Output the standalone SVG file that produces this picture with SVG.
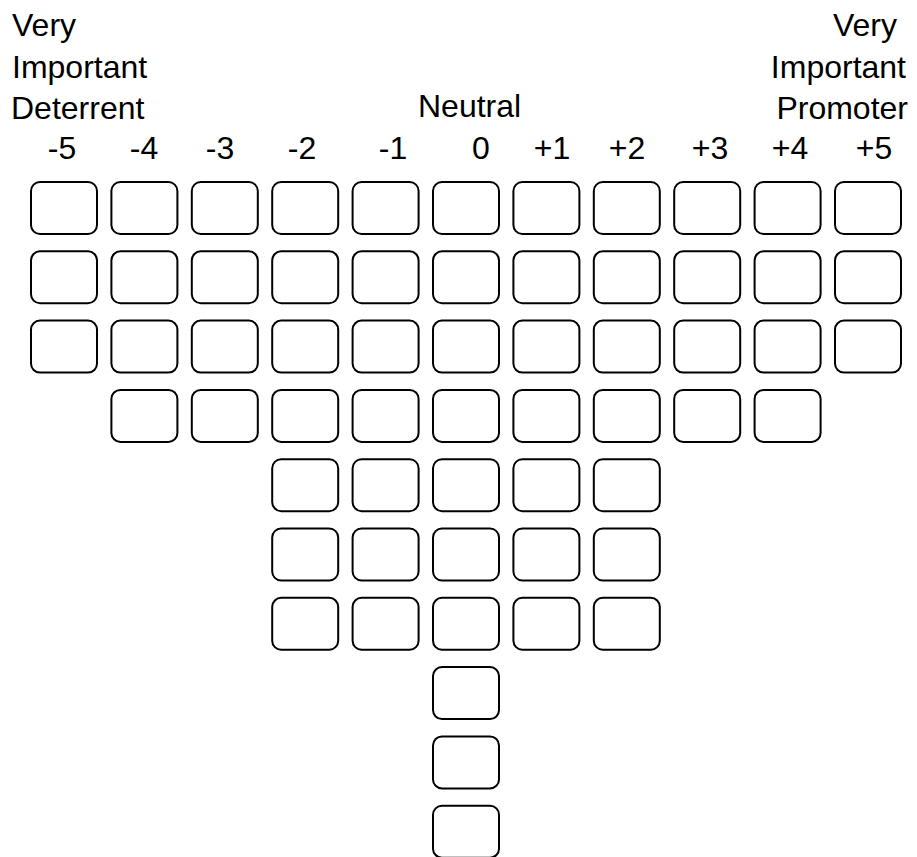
<svg xmlns="http://www.w3.org/2000/svg" width="917" height="857" viewBox="0 0 917 857">
<style>
text{font-family:"Liberation Sans",Arial,sans-serif;font-size:32px;fill:#000}
.n{text-anchor:middle}
.e{text-anchor:end}
.box{fill:#fff;stroke:#000;stroke-width:2}
</style>
<defs><rect id="b" class="box" width="66" height="52" rx="9" ry="9"/></defs>
<rect width="917" height="857" fill="#fff"/>
<g id="labels">
<text x="12" y="36">Very</text>
<text x="12" y="78">Important</text>
<text x="11" y="119">Deterrent</text>
<text x="418" y="117">Neutral</text>
<text class="e" x="897" y="36">Very</text>
<text class="e" x="906" y="78">Important</text>
<text class="e" x="908" y="119">Promoter</text>
</g>
<g id="scale">
<text class="n" x="62" y="159">-5</text>
<text class="n" x="144" y="159">-4</text>
<text class="n" x="220" y="159">-3</text>
<text class="n" x="302" y="159">-2</text>
<text class="n" x="393" y="159">-1</text>
<text class="n" x="481" y="159">0</text>
<text class="n" x="552" y="159">+1</text>
<text class="n" x="627" y="159">+2</text>
<text class="n" x="710" y="159">+3</text>
<text class="n" x="790" y="159">+4</text>
<text class="n" x="874" y="159">+5</text>
</g>
<g id="row1">
<use href="#b" x="31" y="182"/><use href="#b" x="111.4" y="182"/><use href="#b" x="191.8" y="182"/><use href="#b" x="272.2" y="182"/><use href="#b" x="352.6" y="182"/><use href="#b" x="433" y="182"/><use href="#b" x="513.4" y="182"/><use href="#b" x="593.8" y="182"/><use href="#b" x="674.2" y="182"/><use href="#b" x="754.6" y="182"/><use href="#b" x="835" y="182"/>
</g>
<g id="row2">
<use href="#b" x="31" y="251.3"/><use href="#b" x="111.4" y="251.3"/><use href="#b" x="191.8" y="251.3"/><use href="#b" x="272.2" y="251.3"/><use href="#b" x="352.6" y="251.3"/><use href="#b" x="433" y="251.3"/><use href="#b" x="513.4" y="251.3"/><use href="#b" x="593.8" y="251.3"/><use href="#b" x="674.2" y="251.3"/><use href="#b" x="754.6" y="251.3"/><use href="#b" x="835" y="251.3"/>
</g>
<g id="row3">
<use href="#b" x="31" y="320.6"/><use href="#b" x="111.4" y="320.6"/><use href="#b" x="191.8" y="320.6"/><use href="#b" x="272.2" y="320.6"/><use href="#b" x="352.6" y="320.6"/><use href="#b" x="433" y="320.6"/><use href="#b" x="513.4" y="320.6"/><use href="#b" x="593.8" y="320.6"/><use href="#b" x="674.2" y="320.6"/><use href="#b" x="754.6" y="320.6"/><use href="#b" x="835" y="320.6"/>
</g>
<g id="row4">
<use href="#b" x="111.4" y="389.9"/><use href="#b" x="191.8" y="389.9"/><use href="#b" x="272.2" y="389.9"/><use href="#b" x="352.6" y="389.9"/><use href="#b" x="433" y="389.9"/><use href="#b" x="513.4" y="389.9"/><use href="#b" x="593.8" y="389.9"/><use href="#b" x="674.2" y="389.9"/><use href="#b" x="754.6" y="389.9"/>
</g>
<g id="row5">
<use href="#b" x="272.2" y="459.2"/><use href="#b" x="352.6" y="459.2"/><use href="#b" x="433" y="459.2"/><use href="#b" x="513.4" y="459.2"/><use href="#b" x="593.8" y="459.2"/>
</g>
<g id="row6">
<use href="#b" x="272.2" y="528.5"/><use href="#b" x="352.6" y="528.5"/><use href="#b" x="433" y="528.5"/><use href="#b" x="513.4" y="528.5"/><use href="#b" x="593.8" y="528.5"/>
</g>
<g id="row7">
<use href="#b" x="272.2" y="597.8"/><use href="#b" x="352.6" y="597.8"/><use href="#b" x="433" y="597.8"/><use href="#b" x="513.4" y="597.8"/><use href="#b" x="593.8" y="597.8"/>
</g>
<g id="row8"><use href="#b" x="433" y="667.1"/></g>
<g id="row9"><use href="#b" x="433" y="736.4"/></g>
<g id="row10"><use href="#b" x="433" y="805.7"/></g>
<g id="connectors"/>
</svg>
